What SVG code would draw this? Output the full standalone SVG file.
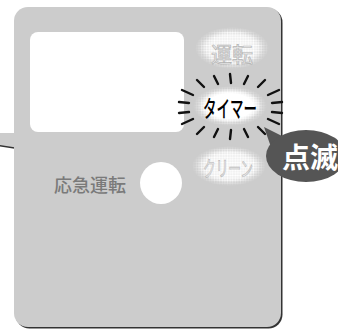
<svg xmlns="http://www.w3.org/2000/svg" width="338" height="329" viewBox="0 0 338 329">
<style>
.cjk{font-family:"Noto Sans CJK JP","Noto Sans CJK SC",sans-serif}
.burst line{stroke:#111;stroke-width:2.4;stroke-linecap:round}
.faded{fill:#ececec;stroke:#b4b4b4;stroke-width:0.7}
</style>
<defs>
<pattern id="dots" width="2.6" height="2.6" patternUnits="userSpaceOnUse"><circle cx="1.3" cy="1.3" r="1.05" fill="#fff"/></pattern>
<radialGradient id="fadeG"><stop offset="0" stop-color="#fff"/><stop offset="0.7" stop-color="#fff"/><stop offset="1" stop-color="#fff" stop-opacity="0"/></radialGradient>
<mask id="fadeMask" maskContentUnits="objectBoundingBox"><rect width="1" height="1" fill="url(#fadeG)"/></mask>
<radialGradient id="coreStrong"><stop offset="0" stop-color="#fff"/><stop offset="0.62" stop-color="#fff"/><stop offset="0.85" stop-color="#fff" stop-opacity="0"/></radialGradient>
<radialGradient id="coreWeak"><stop offset="0" stop-color="#fff" stop-opacity="0.7"/><stop offset="0.6" stop-color="#fff" stop-opacity="0.6"/><stop offset="0.85" stop-color="#fff" stop-opacity="0"/></radialGradient>
</defs>
<g id="panel">
<path d="M0,134 L16,134 L16,149 L0,146.5 Z" fill="#333"/>
<rect x="15.5" y="8.5" width="267" height="320" rx="14" fill="#333"/>
<rect x="14" y="7" width="267" height="320" rx="14" fill="#cccccc"/>
<path d="M0,133 L16,133 L16,147.5 L0,145 Z" fill="#cccccc"/>
</g>
<g id="screen"><rect x="30" y="32" width="154" height="100" rx="8" fill="#fff"/></g>
<g id="btn-unten">
<ellipse cx="232" cy="48" rx="37" ry="21" fill="url(#dots)" mask="url(#fadeMask)"/>
<ellipse cx="232" cy="48" rx="37" ry="21" fill="url(#coreWeak)"/>
<text x="232" y="62" class="cjk faded" font-size="21" text-anchor="middle">運転</text>
</g>
<g id="btn-timer">
<ellipse cx="230" cy="106" rx="37" ry="20" fill="url(#dots)" mask="url(#fadeMask)"/>
<ellipse cx="230" cy="106" rx="37" ry="20" fill="url(#coreStrong)"/>
<text x="230" y="117" class="cjk" font-size="23" font-weight="500" fill="#000" text-anchor="middle" textLength="54" lengthAdjust="spacingAndGlyphs">タイマー</text>
</g>
<g id="btn-clean">
<ellipse cx="229" cy="166" rx="37" ry="20" fill="url(#dots)" mask="url(#fadeMask)"/>
<ellipse cx="229" cy="166" rx="37" ry="20" fill="url(#coreWeak)"/>
<text x="228" y="176" class="cjk faded" font-size="21" text-anchor="middle" textLength="50" lengthAdjust="spacingAndGlyphs">クリーン</text>
</g>
<g id="burst" class="burst">
<line x1="197" y1="80" x2="204" y2="87"/>
<line x1="214" y1="76" x2="218" y2="84"/>
<line x1="230" y1="74" x2="231" y2="83"/>
<line x1="248" y1="76" x2="244" y2="84"/>
<line x1="265" y1="80" x2="258" y2="87"/>
<line x1="279" y1="90" x2="268" y2="95"/>
<line x1="282" y1="102" x2="272" y2="103"/>
<line x1="282" y1="113" x2="272" y2="112"/>
<line x1="279" y1="124" x2="268" y2="119"/>
<line x1="182" y1="90" x2="193" y2="95"/>
<line x1="179" y1="102" x2="189" y2="103"/>
<line x1="179" y1="113" x2="189" y2="112"/>
<line x1="182" y1="124" x2="193" y2="119"/>
<line x1="197" y1="134" x2="204" y2="127"/>
<line x1="214" y1="137" x2="218" y2="129"/>
<line x1="230" y1="139" x2="231" y2="130"/>
<line x1="248" y1="137" x2="244" y2="129"/>
<line x1="265" y1="134" x2="258" y2="127"/>
</g>
<g id="emergency">
<text x="90" y="192" class="cjk" font-size="18" font-weight="500" fill="#7a7a7a" text-anchor="middle">応急運転</text>
<circle cx="161" cy="183" r="21" fill="#fff"/>
</g>
<g id="blink">
<path d="M264,127 L282,136 L272,150 Z" fill="#555"/>
<ellipse cx="306" cy="156" rx="40" ry="26" fill="#555"/>
<text x="310" y="168" class="cjk" font-size="28" font-weight="bold" fill="#fff" text-anchor="middle">点滅</text>
</g>
</svg>
